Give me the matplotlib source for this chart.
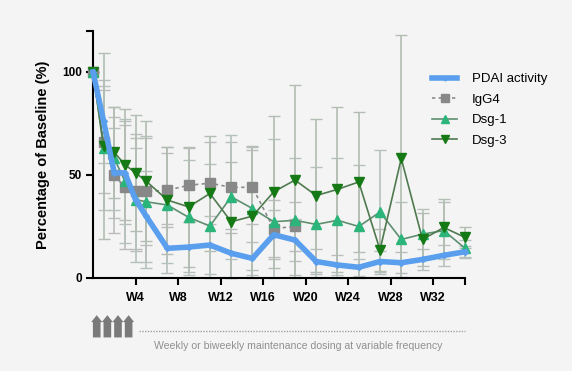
import matplotlib
matplotlib.use("Agg")
import matplotlib.pyplot as plt
import matplotlib.transforms as mtransforms
import numpy as np

plt.rcParams["font.family"] = ["Liberation Sans", "DejaVu Sans"]

# weeks of each visit
weeks = [0, 1, 2, 3, 4, 5, 7, 9, 11, 13, 15, 17, 19, 21, 23, 25, 27, 29, 31, 33, 35]

pdai = [100, 76, 51, 51, 38, 30, 14.4, 15, 16, 12, 9.5, 21, 18.4, 8, 6.3, 5.2, 8, 7.4, 9, 11, 12.7]
pdai_err = [0, 20, 22, 25, 25, 22, 12, 12, 14, 12, 8, 12, 10, 6, 5, 4, 5, 5, 5, 5, 3]

igg4_weeks = [0, 1, 2, 3, 4, 5, 7, 9, 11, 13, 15, 17, 19]
igg4 = [100, 66, 50, 44, 42, 42, 42.6, 45, 46, 44, 44, 24, 25]
igg4_err = [0, 25, 28, 30, 28, 26, 18, 18, 20, 22, 18, 14, 12]

dsg1 = [100, 63, 58, 47, 38, 37, 35.4, 29.4, 25.2, 39.4, 33.7, 27.3, 28, 26, 28, 25, 32, 18.7, 21.3, 23, 14.4]
dsg1_err = [0, 30, 25, 30, 30, 32, 28, 28, 30, 30, 30, 40, 30, 28, 30, 30, 30, 18, 12, 14, 4]

dsg3 = [100, 64, 61, 55, 51, 47, 37.8, 34.5, 41, 27.3, 30, 41.8, 47.5, 40, 43, 46.6, 13.6, 58, 18.7, 24.5, 19.7]
dsg3_err = [0, 45, 22, 27, 28, 29, 26, 29, 28, 29, 34, 37, 46, 37, 40, 34, 10, 60, 13, 14, 5]

x_ticks = [4, 8, 12, 16, 20, 24, 28, 32]
x_labels = ["W4", "W8", "W12", "W16", "W20", "W24", "W28", "W32"]
dose_weeks = [0, 1, 2, 3]

BG = "#f4f4f4"
fig = plt.figure(figsize=(5.72, 3.71), dpi=100, facecolor=BG)
ax = fig.add_axes([0.1626, 0.2507, 0.6504, 0.6666], facecolor=BG)


def err_bars(x, y, e, color):
    y = np.array(y, dtype=float)
    e = np.array(e, dtype=float)
    lo = np.minimum(e, y)
    ax.errorbar(x, y, yerr=[lo, e], fmt="none", ecolor=color, elinewidth=1.2,
                capsize=4, capthick=1.0, zorder=1, clip_on=False)


err_bars(weeks, pdai, pdai_err, "#b9bfbf")
err_bars(igg4_weeks, igg4, igg4_err, "#bcbcbc")
err_bars(weeks, dsg1, dsg1_err, "#b5c2bc")
err_bars(weeks, dsg3, dsg3_err, "#b3bdb3")

ax.plot(igg4_weeks, igg4, color="#8a8a8a", linestyle=(0, (2, 2)), linewidth=1.2,
        marker="s", markersize=6.5, markerfacecolor="#888888", markeredgecolor="#888888",
        label="IgG4", zorder=3, clip_on=False)
ax.plot(weeks, dsg1, color="#5e8f70", linewidth=1.2, marker="^", markersize=6.5,
        markerfacecolor="#2bb57a", markeredgecolor="#2bb57a", label="Dsg-1",
        zorder=4, clip_on=False)
ax.plot(weeks, dsg3, color="#4f7a4f", linewidth=1.2, marker="v", markersize=6.5,
        markerfacecolor="#157a15", markeredgecolor="#157a15", label="Dsg-3",
        zorder=4, clip_on=False)
ax.plot(weeks, pdai, color="#5a9eee", linewidth=4, marker="D", markersize=3,
        markerfacecolor="#5a9eee", markeredgecolor="#5a9eee", label="PDAI activity",
        zorder=5, clip_on=False)

ax.set_xlim(0, 35)
ax.set_ylim(0, 120)
ax.set_xticks(x_ticks + [35])
ax.set_xticklabels(x_labels + [""], fontsize=9, fontweight="bold")
ax.set_yticks([0, 50, 100, 120])
ax.set_yticklabels(["0", "50", "100", ""], fontsize=8.5, fontweight="bold")
ax.tick_params(direction="out", length=5, width=1.5, color="black", pad=3)
ax.tick_params(axis="x", pad=5)
for s in ("top", "right"):
    ax.spines[s].set_visible(False)
for s in ("left", "bottom"):
    ax.spines[s].set_linewidth(1.5)
ax.set_ylabel("Percentage of Baseline (%)", fontsize=10.5, fontweight="bold", labelpad=9)

handles, labels = ax.get_legend_handles_labels()
order = [3, 0, 1, 2]
fig.legend([handles[i] for i in order], [labels[i] for i in order],
           loc="upper left", bbox_to_anchor=(0.735, 0.835), frameon=False,
           fontsize=9.5, handlelength=1.9, labelspacing=0.62, handletextpad=1.1,
           markerscale=0.85)

# dosing annotation below the x axis
trans = mtransforms.blended_transform_factory(ax.transData, fig.transFigure)
for w in dose_weeks:
    ax.annotate("", xy=(w + 0.35, 0.158), xytext=(w + 0.35, 0.083),
                xycoords=trans, textcoords=trans,
                arrowprops=dict(arrowstyle="simple,head_width=0.8,head_length=0.5,tail_width=0.55",
                                color="#7a7a7a", lw=0))
ax.plot([4.3, 35], [0.108, 0.108], transform=trans, color="#a0a0a0",
        linestyle=(0, (1, 1)), linewidth=1.0, clip_on=False)
ax.text(19.3, 0.068, "Weekly or biweekly maintenance dosing at variable frequency",
        transform=trans, ha="center", va="center", fontsize=7.6, color="#909090")

fig.savefig("out.png", dpi=100, facecolor=BG)
